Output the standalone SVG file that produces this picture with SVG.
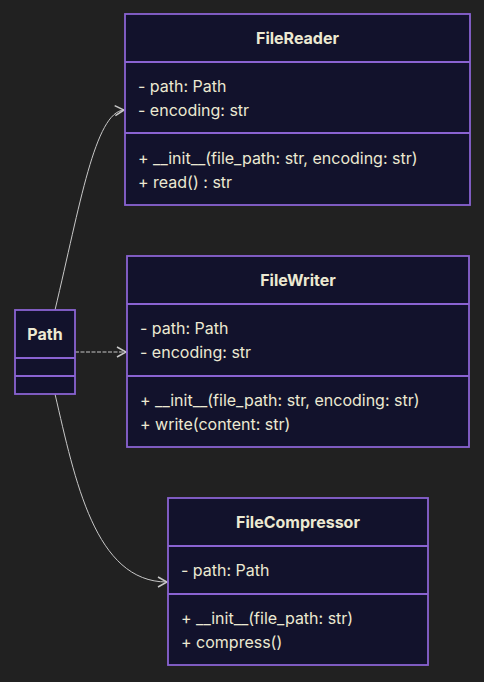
<svg xmlns="http://www.w3.org/2000/svg" width="484" height="682" viewBox="0 0 484 682">
<defs>
<style>
.box{fill:#12122c;stroke:#8a63d2;stroke-width:1.8}
.div{stroke:#8a63d2;stroke-width:1.8}
.t{font-family:Inter,"Noto Sans",sans-serif;font-size:16px;fill:#ece9d2}
.b{font-weight:bold;text-anchor:middle}
.edge{fill:none;stroke:#c8c8c8;stroke-width:1}
</style>
<marker id="arr" markerWidth="12" markerHeight="12" refX="10" refY="6" orient="auto" markerUnits="userSpaceOnUse">
<path d="M1,1 L10,6 L1,11" fill="none" stroke="#c8c8c8" stroke-width="1.5"/>
</marker>
</defs>
<rect width="484" height="682" fill="#212121"/>
<g id="connectors">
<path class="edge" d="M55,310 C80,205 95,112 124,110" marker-end="url(#arr)"/>
<path class="edge" d="M75,352 L126,352" stroke-dasharray="4,1.5" marker-end="url(#arr)"/>
<path class="edge" d="M55,394 C75,480 95,582 167,582" marker-end="url(#arr)"/>
</g>
<g id="Path">
<rect class="box" x="15" y="310" width="60" height="84"/>
<line class="div" x1="15" y1="358" x2="75" y2="358"/>
<line class="div" x1="15" y1="376" x2="75" y2="376"/>
<text class="t b" x="45" y="339.5">Path</text>
</g>
<g id="FileReader">
<rect class="box" x="125" y="14" width="345" height="191"/>
<line class="div" x1="125" y1="62" x2="470" y2="62"/>
<line class="div" x1="125" y1="133" x2="470" y2="133"/>
<text class="t b" x="297.5" y="43.5">FileReader</text>
<text class="t" x="138" y="91.5">- path: Path</text>
<text class="t" x="138" y="115.5">- encoding: str</text>
<text class="t" x="138" y="163.5">+ __init__(file_path: str, encoding: str)</text>
<text class="t" x="138" y="187.5">+ read() : str</text>
</g>
<g id="FileWriter">
<rect class="box" x="127" y="256" width="342" height="191"/>
<line class="div" x1="127" y1="304" x2="469" y2="304"/>
<line class="div" x1="127" y1="376" x2="469" y2="376"/>
<text class="t b" x="298" y="285.5">FileWriter</text>
<text class="t" x="140" y="333.5">- path: Path</text>
<text class="t" x="140" y="357.5">- encoding: str</text>
<text class="t" x="140" y="405.5">+ __init__(file_path: str, encoding: str)</text>
<text class="t" x="140" y="429.5">+ write(content: str)</text>
</g>
<g id="FileCompressor">
<rect class="box" x="168" y="498" width="260" height="167"/>
<line class="div" x1="168" y1="546" x2="428" y2="546"/>
<line class="div" x1="168" y1="594" x2="428" y2="594"/>
<text class="t b" x="298" y="527.5">FileCompressor</text>
<text class="t" x="181" y="575.5">- path: Path</text>
<text class="t" x="181" y="623.5">+ __init__(file_path: str)</text>
<text class="t" x="181" y="647.5">+ compress()</text>
</g>
</svg>
